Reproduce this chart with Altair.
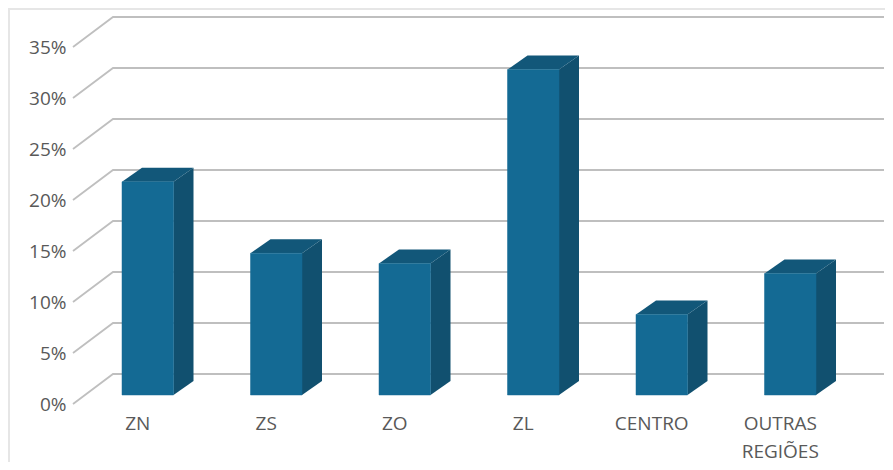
import json
import altair as alt
import pandas as pd

CATEGORIES = ["ZN", "ZS", "ZO", "ZL", "CENTRO", "OUTRAS REGIÕES"]
VALUES = [20.9, 13.9, 12.9, 31.9, 7.9, 11.9]
TICKS = [0, 5, 10, 15, 20, 25, 30, 35]

# Scale units: one slot = 128.5 px wide, one percent = 10.2 px tall
PX_X = 128.5
PX_Y = 10.2
N = len(CATEGORIES)

WALL_DX = 40 / PX_X      # floor depth in slot units
WALL_DY = 30 / PX_Y      # floor depth in percent units
BAR_START = 49 / PX_X    # bar front-left offset inside its slot
BAR_W = 51.5 / PX_X      # bar front width
BAR_LIFT = 9 / PX_Y      # bar front base above the front floor edge
BAR_DX = 20 / PX_X       # bar depth, horizontal
BAR_DY = 14 / PX_Y       # bar depth, vertical

PLOT_W = 812
PLOT_H = 396

grid_rows = []
for t in TICKS:
    grid_rows += [
        {"tick": t, "o": 0, "x": 0, "y": t},
        {"tick": t, "o": 1, "x": WALL_DX, "y": t + WALL_DY},
        {"tick": t, "o": 2, "x": N + WALL_DX, "y": t + WALL_DY},
    ]

front_rows, side_rows, top_rows = [], [], []
for i, (c, v) in enumerate(zip(CATEGORIES, VALUES)):
    x0 = i + BAR_START
    x1 = x0 + BAR_W
    base = BAR_LIFT
    top = base + v
    front_rows.append({"cat": c, "x": x0, "x2": x1, "y": top, "y2": base})
    side_rows += [
        {"cat": c, "x": x1, "y": top, "y2": base},
        {"cat": c, "x": x1 + BAR_DX, "y": top + BAR_DY, "y2": base + BAR_DY},
    ]
    top_rows += [
        {"cat": c, "y": top, "x": x0, "x2": x1},
        {"cat": c, "y": top + BAR_DY, "x": x0 + BAR_DX, "x2": x1 + BAR_DX},
    ]

x_scale = alt.Scale(domain=[0, PLOT_W / PX_X], nice=False, zero=False)
y_scale = alt.Scale(domain=[0, PLOT_H / PX_Y], nice=False, zero=False)

label_lists = json.dumps([c.split(" ") for c in CATEGORIES])
LABEL_COLOR = "#595959"
FONT = "Open Sans"

x_axis = alt.Axis(
    title=None,
    values=[i + 0.5 for i in range(N)],
    labelExpr=f"{label_lists}[floor(datum.value)]",
    domain=False,
    ticks=False,
    grid=False,
    labelFont=FONT,
    labelFontSize=19,
    labelColor=LABEL_COLOR,
    labelPadding=10,
    labelAngle=0,
    labelAlign="center",
    labelBound=False,
    labelFlush=False,
    labelOverlap=False,
    labelLineHeight=28,
)
y_axis = alt.Axis(
    title=None,
    values=TICKS,
    labelExpr="datum.value + '%'",
    domain=False,
    ticks=False,
    grid=False,
    labelFont=FONT,
    labelFontSize=19,
    labelColor=LABEL_COLOR,
    labelPadding=7,
    labelBound=False,
    labelFlush=False,
    labelOverlap=False,
)

X = alt.X("x:Q", scale=x_scale, axis=x_axis)
Y = alt.Y("y:Q", scale=y_scale, axis=y_axis)

grid = alt.Chart(pd.DataFrame(grid_rows)).mark_line(
    color="#bfbfbf", strokeWidth=1.8, clip=False
).encode(x=X, y=Y, detail="tick:N", order="o:Q")

front = alt.Chart(pd.DataFrame(front_rows)).mark_rect(
    color="#146a94", stroke="#146a94", strokeWidth=0.5
).encode(x=X, x2="x2:Q", y=Y, y2="y2:Q")

side = alt.Chart(pd.DataFrame(side_rows)).mark_area(
    color="#11506f", orient="vertical", opacity=1
).encode(x=X, y=Y, y2="y2:Q", detail="cat:N")

top_face = alt.Chart(pd.DataFrame(top_rows)).mark_area(
    color="#125779", orient="horizontal", opacity=1
).encode(y=Y, x=X, x2="x2:Q", detail="cat:N")

frame_left = alt.Chart(pd.DataFrame({"a": [0]})).mark_rule(
    color="#e6e6e6", strokeWidth=2
).encode(x=alt.value(-64), y=alt.value(0), y2=alt.value(454))
frame_top = alt.Chart(pd.DataFrame({"a": [0]})).mark_rule(
    color="#e6e6e6", strokeWidth=2
).encode(x=alt.value(-65), x2=alt.value(PLOT_W), y=alt.value(1))

chart = (
    alt.layer(frame_left, frame_top, grid, side, top_face, front)
    .properties(
        width=PLOT_W,
        height=PLOT_H,
        autosize=alt.AutoSizeParams(type="none"),
        padding={"left": 65, "top": 0, "right": 0, "bottom": 58},
        background="white",
    )
    .configure_view(stroke=None)
)

chart.save("out.html", embed_options={"renderer": "svg", "actions": False})
